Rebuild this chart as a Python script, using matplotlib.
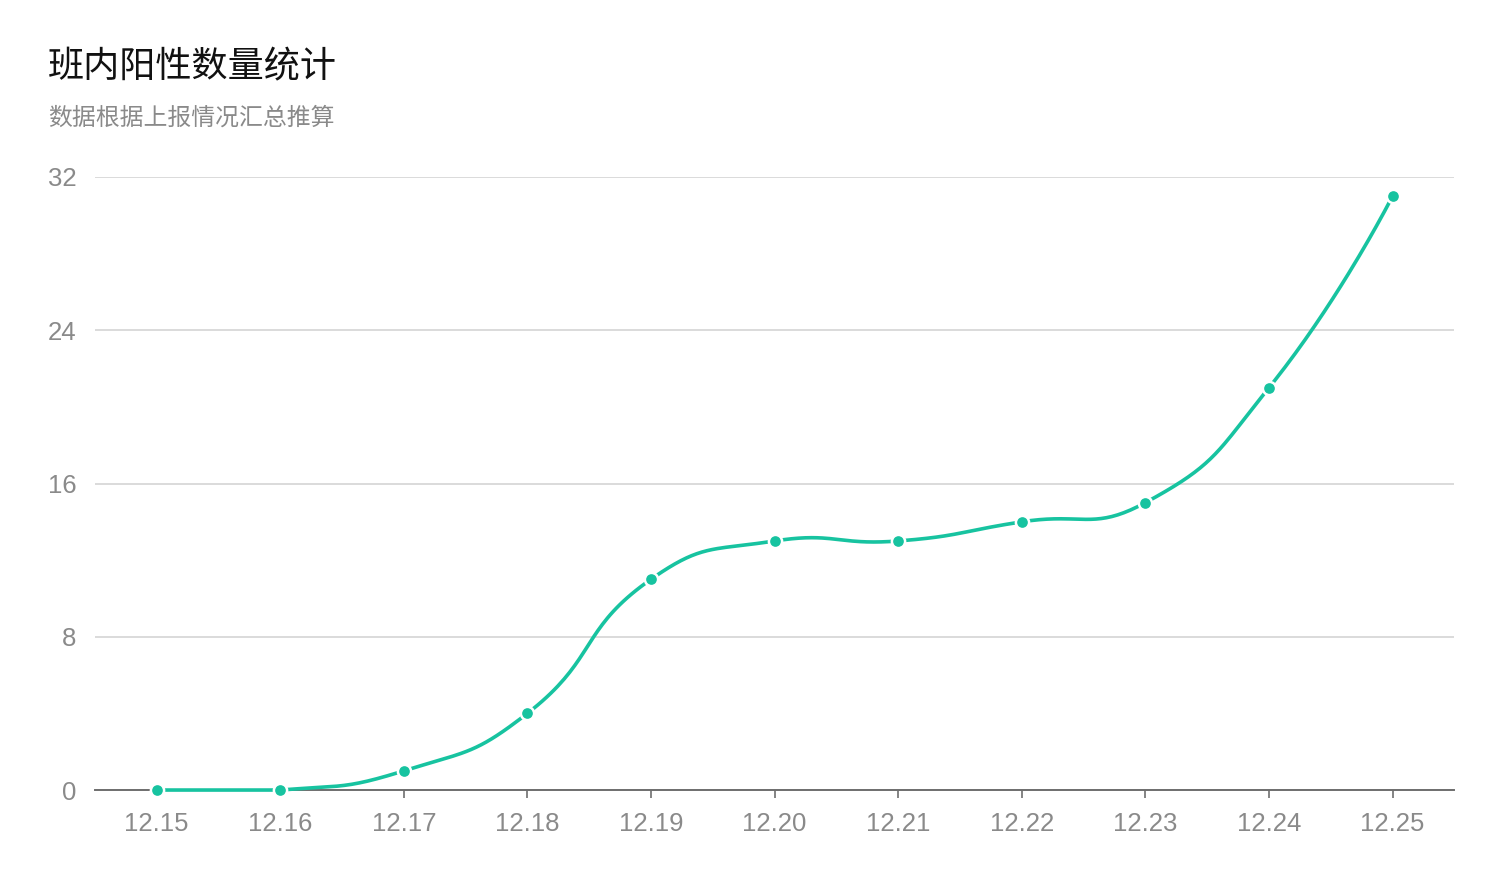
import numpy as np
import matplotlib
matplotlib.use("Agg")
import matplotlib.pyplot as plt

plt.rcParams['font.family'] = ['Noto Sans CJK SC', 'DejaVu Sans']

dates = ["12.15", "12.16", "12.17", "12.18", "12.19", "12.20",
         "12.21", "12.22", "12.23", "12.24", "12.25"]
counts = [0, 0, 1, 4, 11, 13, 13, 14, 15, 21, 31]
title = "班内阳性数量统计"
subtitle = "数据根据上报情况汇总推算"
y_ticks = [0, 8, 16, 24, 32]

line_color = "#17c3a0"

fig = plt.figure(figsize=(15.04, 8.84), dpi=100)
ax = fig.add_axes([0.063, 0.1063, 0.904, 0.6935])
x = np.arange(len(dates))
ax.set_xlim(-0.5, len(dates) - 0.5)
ax.set_ylim(0, 32)


# smooth curve in screen space (bezier handles from neighbours, clamped to data box)
def smooth_curve(xs, ys, s=0.5, n=40):
    pts = ax.transData.transform(np.column_stack([xs, ys]))
    lo, hi = pts.min(axis=0), pts.max(axis=0)
    out = [pts[0]]
    cp0 = pts[0].copy()
    for i in range(1, len(pts)):
        p = pts[i]
        if i == len(pts) - 1:
            cp1 = p.copy()
            nxt_cp0 = p.copy()
        else:
            v = pts[i + 1] - pts[i - 1]
            lp = np.hypot(*(p - pts[i - 1]))
            ln = np.hypot(*(pts[i + 1] - p))
            r = ln / (ln + lp)
            cp1 = p - v * s * (1 - r)
            nxt_cp0 = p + v * s * r
        cp0c = np.clip(cp0, lo, hi)
        cp1c = np.clip(cp1, lo, hi)
        t = np.linspace(0, 1, n)[1:, None]
        p0 = pts[i - 1]
        seg = ((1 - t) ** 3) * p0 + 3 * ((1 - t) ** 2) * t * cp0c \
            + 3 * (1 - t) * t ** 2 * cp1c + t ** 3 * p
        out.extend(seg)
        cp0 = nxt_cp0
    out = np.array(out)
    return ax.transData.inverted().transform(out)


curve = smooth_curve(x, counts)
ax.plot(curve[:, 0], curve[:, 1], color=line_color, lw=2.6,
        solid_capstyle="round", zorder=3, clip_on=False)
ax.plot(x, counts, "o", color=line_color, ms=9.5, mec="white", mew=1.8,
        zorder=4, clip_on=False)

ax.set_yticks(y_ticks)
ax.set_xticks(x)
ax.set_xticklabels(dates)
ax.grid(axis="y", color="#dadada", lw=1.4)
ax.set_axisbelow(True)
for side in ["top", "right", "left"]:
    ax.spines[side].set_visible(False)
ax.spines["bottom"].set_color("#6e6e6e")
ax.spines["bottom"].set_linewidth(1.4)
ax.tick_params(axis="y", length=0, pad=13, labelsize=18.5, labelcolor="#8a8a8a")
ax.tick_params(axis="x", length=6, width=1.2, color="#6e6e6e", pad=10,
               labelsize=18.5, labelcolor="#8a8a8a")
for lab in ax.get_xticklabels() + ax.get_yticklabels():
    lab.set_family(["Liberation Sans", "DejaVu Sans"])

fig.text(0.032, 0.924, title, fontsize=26, color="#111111", va="center")
fig.text(0.032, 0.866, subtitle, fontsize=17.2, color="#8a8a8a", va="center")

fig.savefig("out.png", dpi=100)
